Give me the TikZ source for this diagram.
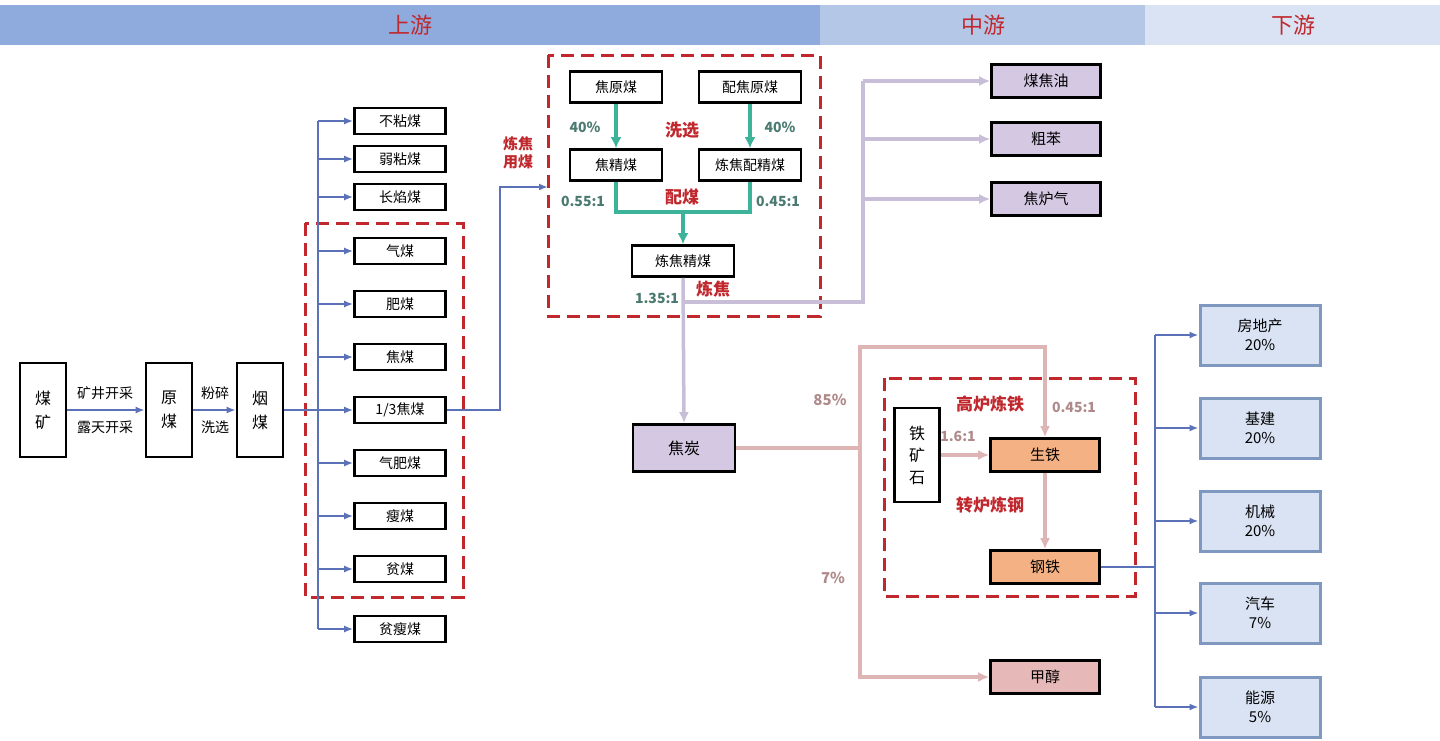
\documentclass[tikz,border=0pt]{standalone}
\usepackage{fontspec}
\setmainfont{Noto Sans CJK SC}
\usetikzlibrary{arrows.meta}
\definecolor{hA}{HTML}{8FAADC}\definecolor{hB}{HTML}{B4C7E7}\definecolor{hC}{HTML}{DAE3F3}
\definecolor{dred}{HTML}{C0282D}\definecolor{blu}{HTML}{5B72B8}\definecolor{teal}{HTML}{3DB39A}
\definecolor{lav}{HTML}{C8BED8}\definecolor{lavf}{HTML}{D5C8E3}\definecolor{pnk}{HTML}{DDB5B5}
\definecolor{pnkf}{HTML}{E6B8B7}\definecolor{org}{HTML}{F4B183}\definecolor{bb}{HTML}{7F98C0}
\definecolor{tgreen}{HTML}{4A7A70}\definecolor{ptx}{HTML}{B08A8A}
\tikzset{box/.style={draw=black,line width=2.6pt,fill=white,inner sep=0pt,font=\fontsize{14}{15}\selectfont},
 vbox/.style={box,minimum width=46pt,minimum height=94pt,align=center,font=\fontsize{16}{24}\selectfont},
 cbox/.style={box,minimum width=91pt,minimum height=26pt},
 tbox/.style={box,minimum width=92pt,minimum height=31pt},
 dbox/.style={box,minimum width=102pt,minimum height=31pt},
 rbox/.style={box,minimum width=109pt,minimum height=33pt,font=\fontsize{15}{16}\selectfont},
 obox/.style={draw=bb,line width=3pt,fill=hC,minimum width=120pt,minimum height=60pt,align=center,font=\fontsize{15}{19}\selectfont},
 redash/.style={draw=dred,line width=3pt,dash pattern=on 13pt off 7pt},
 bl/.style={draw=blu,line width=2pt},ba/.style={bl,-{Latex[length=9pt,width=7pt]}},
 tl/.style={draw=teal,line width=3.5pt},ta/.style={tl,-{Latex[length=11pt,width=11pt]}},
 ll/.style={draw=lav,line width=3.5pt},la/.style={ll,-{Latex[length=11pt,width=10pt]}},
 pl/.style={draw=pnk,line width=3.5pt},pa/.style={pl,-{Latex[length=11pt,width=10pt]}},
 rt/.style={text=dred,font=\bfseries\fontsize{17}{18}\selectfont},
 gt/.style={text=tgreen,font=\bfseries\fontsize{14}{15}\selectfont},
 pt/.style={text=ptx,font=\bfseries\fontsize{15}{16}\selectfont},
 sm/.style={font=\fontsize{14}{15}\selectfont}}
\begin{document}
\begin{tikzpicture}[x=1pt,y=-1pt]
\useasboundingbox (0,0) rectangle (1440,740);
\fill[hA] (0,5) rectangle (820,45); \fill[hB] (820,5) rectangle (1145,45); \fill[hC] (1145,5) rectangle (1440,45);
\node[text=dred,font=\fontsize{22}{24}\selectfont] (h1) at (410,25) {上游};
\node[text=dred,font=\fontsize{22}{24}\selectfont] (h2) at (983,25) {中游};
\node[text=dred,font=\fontsize{22}{24}\selectfont] (h3) at (1293,25) {下游};
\draw[redash] (305,223) rectangle (463,597);
\draw[redash] (548,55) rectangle (820,316);
\draw[redash] (884,378) rectangle (1135,596);
% left chain
\node[vbox] (mk) at (43,410) {煤\\矿};
\node[vbox] (ym) at (169,410) {原\\煤};
\node[vbox] (yan) at (260,410) {烟\\煤};
\draw[ba] (mk) -- (ym); \draw[ba] (ym) -- (yan);
\node[sm] (l1) at (105,393) {矿井开采}; \node[sm] (l2) at (105,427) {露天开采};
\node[sm] (l3) at (215,393) {粉碎}; \node[sm] (l4) at (215,427) {洗选};
\coordinate (sp) at (318,410);
\draw[bl] (yan) -- (sp);
\draw[bl] (318,121) -- (318,629);
\foreach \n/\t/\y in {c1/不粘煤/121,c2/弱粘煤/159,c3/长焰煤/197,c4/气煤/251,c5/肥煤/304,c6/焦煤/357,c7/1\slash 3焦煤/410,c8/气肥煤/463,c9/瘦煤/516,c10/贫煤/569,c11/贫瘦煤/629}{
 \node[cbox] (\n) at (400,\y) {\t}; \draw[ba] (318,\y) -- (\n.west);}
\node[tbox] (jy) at (616,87) {焦原煤};
\node[dbox] (pj) at (750,87) {配焦原煤};
\node[tbox] (jj) at (616,165) {焦精煤};
\node[dbox] (lp) at (750,165) {炼焦配精煤};
\node[dbox] (lj) at (683,261) {炼焦精煤};
\draw[ba] (c7.east) -- (500,410) -- (500,187) -- (548,187);
\node[text=dred,font=\bfseries\fontsize{15}{18}\selectfont,align=center] (lyy) at (518,153) {炼焦\\用煤};
\draw[ta] (jy) -- (jj); \draw[ta] (pj) -- (lp);
\draw[tl] (jj.south) -- (616,212) -- (750,212) -- (lp.south);
\draw[ta] (683,211) -- (lj.north);
\node[gt] (p1) at (585,127) {40\%}; \node[gt] (p2) at (780,127) {40\%};
\node[rt] (xx) at (682,130) {洗选}; \node[rt] (pm) at (682,197) {配煤};
\node[gt] (r1) at (583,201) {0.55:1}; \node[gt] (r2) at (778,201) {0.45:1};
\node[gt] (r3) at (657,298) {1.35:1}; \node[rt] (lj2) at (713,289) {炼焦};
% coke
\node[box,fill=lavf,minimum width=102pt,minimum height=47pt,font=\fontsize{16}{17}\selectfont] (jt) at (684,448) {焦炭};
\node[rbox,fill=lavf] (o1) at (1046,81) {煤焦油};
\node[rbox,fill=lavf] (o2) at (1046,139) {粗苯};
\node[rbox,fill=lavf] (o3) at (1046,199) {焦炉气};
\draw[la] (lj.south) -- (jt.north);
\draw[ll] (683,302) -- (863,302) -- (863,81);
\draw[la] (863,81) -- (o1); \draw[la] (863,139) -- (o2); \draw[la] (863,199) -- (o3);
% iron
\node[box,minimum width=45pt,minimum height=94pt,align=center,font=\fontsize{16}{22}\selectfont] (tk) at (917,455) {铁\\矿\\石};
\node[rbox,fill=org] (st) at (1045,455) {生铁};
\node[rbox,fill=org] (gt2) at (1045,567) {钢铁};
\node[rbox,fill=pnkf] (jc) at (1045,677) {甲醇};
\draw[pl] (jt.east) -- (860,448);
\draw[pa] (860,448) -- (860,347) -- (1045,347) -- (st.north);
\draw[pa] (860,448) -- (860,677) -- (jc.west);
\draw[pa] (tk.east |- st) -- (st.west);
\draw[pa] (st) -- (gt2);
\node[pt] (q1) at (830,400) {85\%}; \node[pt] (q2) at (833,578) {7\%};
\node[rt] (gl) at (990,404) {高炉炼铁}; \node[rt] (zl) at (990,505) {转炉炼钢};
\node[pt,font=\bfseries\fontsize{14}{15}\selectfont] (q3) at (1074,407) {0.45:1};
\node[pt,font=\bfseries\fontsize{14}{15}\selectfont] (q4) at (958,436) {1.6:1};
% downstream
\draw[bl] (gt2.east) -- (1155,567);
\draw[bl] (1155,335) -- (1155,707);
\foreach \n/\a/\b/\y in {d1/房地产/20\%/335,d2/基建/20\%/428,d3/机械/20\%/521,d4/汽车/7\%/613,d5/能源/5\%/707}{
 \node[obox] (\n) at (1260,\y) {\a\\\b}; \draw[ba] (1155,\y) -- (\n.west);}
\end{tikzpicture}
\end{document}
